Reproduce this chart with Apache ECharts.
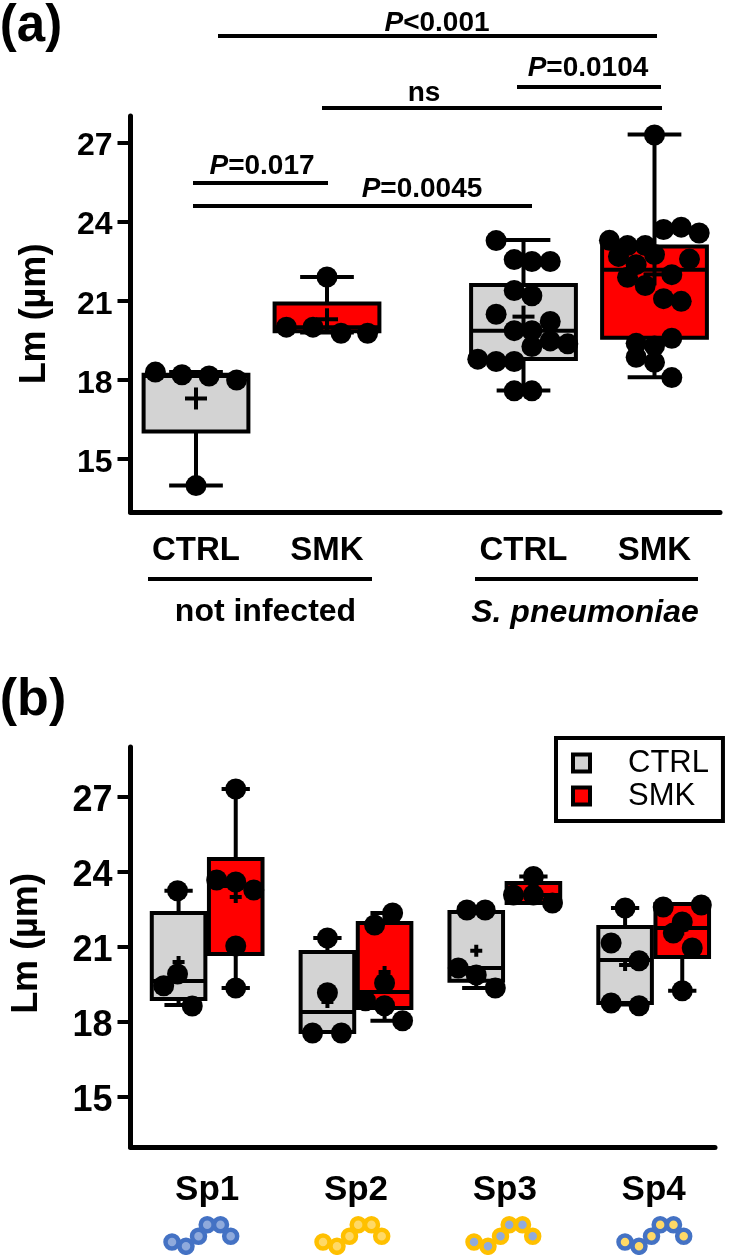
<!DOCTYPE html>
<html><head><meta charset="utf-8">
<style>html,body{margin:0;padding:0;background:#fff}#c{width:734px;height:1255px}</style>
<script src="https://cdn.jsdelivr.net/npm/echarts@6/dist/echarts.min.js"></script>
</head><body><div id="c"></div>
<script>
// ---------- data ----------
const yTicks = [15, 18, 21, 24, 27];
const groupLabelsA = ['CTRL', 'SMK', 'CTRL', 'SMK'];
const groupCentersA = [1, 2, 3.5, 4.5];
const speciesLabels = ['Sp1', 'Sp2', 'Sp3', 'Sp4'];
const speciesCenters = [1, 2, 3, 4];

// box stats: low whisker, Q1, median, Q3, high whisker, mean
const statsNotInfCtrl = [14.0, 16.05, 18.15, 18.2, 18.3, 17.3];
const statsNotInfSmk  = [19.8, 19.85, 20.0, 20.9, 21.9, 20.3];
const statsSpnCtrl    = [17.6, 18.8, 19.87, 21.6, 23.3, 20.4];
const statsSpnSmk     = [18.1, 19.6, 22.18, 23.06, 27.3, 22.0];

// points: [offset from box centre, value]
const ptsNotInfCtrl = [[-.31,18.3],[-.107,18.2],[.1,18.15],[.31,18.0],[0,14.0]];
const ptsNotInfSmk  = [[-.31,20.0],[-.107,20.0],[.107,19.77],[.31,19.77],[0,21.9]];
const ptsSpnCtrl = [[-.209,23.28],[-.071,22.56],[.064,22.49],[.204,22.49],[-.071,21.39],[.064,21.19],[-.209,20.49],[.204,20.22],[-.071,19.87],[.064,19.87],[.064,19.27],[.204,19.48],[.338,19.37],[-.349,18.79],[-.209,18.7],[-.071,18.7],[-.071,17.59],[.064,17.59]];
const ptsSpnSmk = [[0,27.28],[.069,23.7],[.204,23.79],[.341,23.57],[-.344,23.29],[-.206,23.09],[-.071,23.09],[-.275,22.68],[0,22.75],[.267,22.58],[-.14,22.37],[-.206,21.89],[-.071,21.58],[.132,21.99],[.069,21.08],[.204,20.98],[-.14,19.39],[0,19.29],[.132,19.58],[-.14,18.86],[0,18.67],[.132,18.09]];

const statsSp1Ctrl = [18.68, 18.92, 19.64, 22.36, 23.25, 20.4];
const statsSp1Smk  = [19.36, 20.72, 23.44, 24.52, 27.32, 23.0];
const statsSp2Ctrl = [17.6, 17.6, 18.4, 20.8, 21.36, 18.8];
const statsSp2Smk  = [18.05, 18.56, 19.2, 21.96, 22.36, 20.0];
const statsSp3Ctrl = [19.36, 19.65, 20.16, 22.4, 22.48, 20.85];
const statsSp3Smk  = [22.76, 22.76, 23.08, 23.56, 23.82, 23.2];
const statsSp4Ctrl = [18.7, 18.76, 20.48, 21.8, 22.56, 20.28];
const statsSp4Smk  = [19.25, 20.6, 21.76, 22.72, 22.72, 21.7];

const ptsSp1Ctrl = [[-.007,23.25],[-.007,19.92],[-.1,19.45],[.092,18.64]];
const ptsSp1Smk  = [[0,27.32],[-.128,23.68],[0,23.6],[.121,23.28],[0,21.04],[0,19.36]];
const ptsSp2Ctrl = [[0,21.36],[0,19.17],[-.1,17.56],[.094,17.56]];
const ptsSp2Smk  = [[.054,22.36],[-.067,21.88],[0,19.56],[-.128,18.85],[0,18.65],[.121,18.05]];
const ptsSp3Ctrl = [[-.063,22.48],[.06,22.48],[-.121,20.16],[0,19.88],[.128,19.36]];
const ptsSp3Smk  = [[0,23.82],[-.134,23.08],[0,23.08],[.128,22.76]];
const ptsSp4Ctrl = [[0,22.56],[-.094,21.16],[.094,20.45],[-.094,18.76],[.094,18.65]];
const ptsSp4Smk  = [[-.128,22.6],[.128,22.68],[0,22.0],[-.06,21.56],[.067,20.96],[0,19.25]];

// ---------- styling ----------
const FONT = '"Liberation Sans", Arial, sans-serif';
const GRAY = '#d3d3d3', RED = '#ff0000', INK = '#000';
const SP_BLUE = '#4472c4', SP_BLUE_L = '#8faadc', SP_YEL = '#ffc000', SP_YEL_L = '#ffd966';

function boxSeries(name, panel, fill, rows, boxW, capW, crossPx) {
  return {
    type: 'custom', name, xAxisIndex: panel, yAxisIndex: panel, z: 2,
    data: rows, encode: { x: 0, y: [1, 2, 3, 4, 5, 6] },
    renderItem(params, api) {
      const x = api.value(0);
      const P = (dx, v) => api.coord([x + dx, v]);
      const [lo, q1, med, q3, hi, mean] = [1,2,3,4,5,6].map(i => api.value(i));
      const ls = { stroke: INK, lineWidth: 4, fill: null };
      const line = (a, b, style) => ({ type: 'line', shape: { x1: a[0], y1: a[1], x2: b[0], y2: b[1] }, style: style || ls });
      const tl = P(-boxW / 2, q3), br = P(boxW / 2, q1);
      const m = P(0, mean);
      return { type: 'group', children: [
        line(P(0, q3), P(0, hi)), line(P(0, q1), P(0, lo)),
        line(P(-capW / 2, hi), P(capW / 2, hi)), line(P(-capW / 2, lo), P(capW / 2, lo)),
        { type: 'rect', shape: { x: tl[0], y: tl[1], width: br[0] - tl[0], height: br[1] - tl[1] }, style: { fill, stroke: INK, lineWidth: 4 } },
        line(P(-boxW / 2, med), P(boxW / 2, med)),
        line([m[0] - crossPx / 2, m[1]], [m[0] + crossPx / 2, m[1]]),
        line([m[0], m[1] - crossPx / 2], [m[0], m[1] + crossPx / 2])
      ]};
    }
  };
}
function pointSeries(panel, center, pts) {
  return { type: 'scatter', xAxisIndex: panel, yAxisIndex: panel, z: 3, symbol: 'circle', symbolSize: 21, clip: false,
    itemStyle: { color: INK, opacity: 1 }, data: pts.map(p => [center + p[0], p[1]]) };
}
const row = (c, s) => [c, ...s];

const D = 0.192; // panel b dodge
const series = [
  boxSeries('CTRL', 0, GRAY, [row(groupCentersA[0], statsNotInfCtrl), row(groupCentersA[2], statsSpnCtrl)], .80, .41, 22),
  boxSeries('SMK', 0, RED, [row(groupCentersA[1], statsNotInfSmk), row(groupCentersA[3], statsSpnSmk)], .80, .41, 22),
  pointSeries(0, groupCentersA[0], ptsNotInfCtrl), pointSeries(0, groupCentersA[1], ptsNotInfSmk),
  pointSeries(0, groupCentersA[2], ptsSpnCtrl), pointSeries(0, groupCentersA[3], ptsSpnSmk),
  boxSeries('CTRL', 1, GRAY, [statsSp1Ctrl, statsSp2Ctrl, statsSp3Ctrl, statsSp4Ctrl].map((s, i) => row(speciesCenters[i] - D, s)), .36, .19, 12),
  boxSeries('SMK', 1, RED, [statsSp1Smk, statsSp2Smk, statsSp3Smk, statsSp4Smk].map((s, i) => row(speciesCenters[i] + D, s)), .36, .19, 12),
];
[ptsSp1Ctrl, ptsSp2Ctrl, ptsSp3Ctrl, ptsSp4Ctrl].forEach((p, i) => series.push(pointSeries(1, speciesCenters[i] - D, p)));
[ptsSp1Smk, ptsSp2Smk, ptsSp3Smk, ptsSp4Smk].forEach((p, i) => series.push(pointSeries(1, speciesCenters[i] + D, p)));

// ---------- annotations ----------
const g = [];
const hline = (x1, x2, y) => g.push({ type: 'line', shape: { x1, y1: y, x2, y2: y }, style: { stroke: INK, lineWidth: 4 } });
const label = (text, x, y, size, extra) => g.push({ type: 'text', style: Object.assign({ text, x, y, align: 'center', verticalAlign: 'middle', font: `bold ${size}px ${FONT}`, fill: INK }, extra || {}) });
const pLabel = (rest, x, y) => g.push({ type: 'text', style: { text: `{i|P}{b|${rest}}`, x, y, align: 'center', verticalAlign: 'middle',
  rich: { i: { fontStyle: 'italic', fontWeight: 'bold', fontSize: 28, fontFamily: FONT, fill: INK }, b: { fontWeight: 'bold', fontSize: 28, fontFamily: FONT, fill: INK } } } });
hline(218, 657, 36); pLabel('<0.001', 437, 23);
hline(517, 661, 87); pLabel('=0.0104', 588, 68);
hline(322, 662, 108); label('ns', 424, 93, 28);
hline(193, 328, 183); pLabel('=0.017', 262, 166);
hline(193, 532, 206); pLabel('=0.0045', 422, 189);
hline(148, 372, 579); hline(475, 698, 579);
label('not infected', 265.5, 612, 32);
label('S. pneumoniae', 585, 613, 32, { font: `italic bold 32px ${FONT}` });
label('(a)', 31, 27, 51);
label('(b)', 33, 701, 52);
// pneumococcus chains under the species labels
const chainDx = [0, 14, 26.5, 35.2, 48.5, 58.7], chainDy = [0, 4.3, -5.7, -17.3, -17.3, -5.7];
[[SP_BLUE, SP_BLUE_L, 172], [SP_YEL, SP_YEL_L, 323], [SP_YEL, SP_BLUE_L, 474], [SP_BLUE, SP_YEL_L, 625]].forEach(([o, i, x0]) => {
  chainDx.forEach((dx, k) => g.push({ type: 'circle', shape: { cx: x0 + dx, cy: 1242 + chainDy[k], r: 6.5 }, style: { fill: i, stroke: o, lineWidth: 4.5 } }));
});

// ---------- axes ----------
const yAxis = (gridIndex, min, max, gap, size, namePad) => ({
  type: 'value', gridIndex, min, max, name: 'Lm (µm)', nameLocation: 'middle', nameGap: gap,
  nameTextStyle: { fontFamily: FONT, fontWeight: 'bold', fontSize: 36, color: INK, padding: namePad },
  splitLine: { show: false },
  axisLine: { show: true, onZero: false, lineStyle: { color: INK, width: 5 } },
  axisTick: { show: true, length: 13, lineStyle: { color: INK, width: 4 }, customValues: yTicks },
  axisLabel: { customValues: yTicks, margin: 18, formatter: v => `{t|${v}}`,
    rich: { t: { fontFamily: FONT, fontWeight: 'bold', fontSize: size, color: INK, padding: [8, 0, 0, 0] } } }
});
const xAxis = (gridIndex, min, max, vals, names, margin, size) => ({
  type: 'value', gridIndex, min, max,
  splitLine: { show: false },
  axisLine: { show: true, onZero: false, lineStyle: { color: INK, width: 5 } },
  axisTick: { show: false },
  axisLabel: { customValues: vals, formatter: v => names[vals.indexOf(v)], fontFamily: FONT, fontWeight: 'bold', fontSize: size, color: INK, margin }
});

const chart = echarts.init(document.getElementById('c'), null, { renderer: 'canvas' });
chart.setOption({
  animation: false, backgroundColor: '#fff',
  grid: [
    { left: 130.5, right: 14, top: 116, height: 396, outerBoundsMode: 'none' },
    { left: 130.5, right: 19, top: 747, height: 400, outerBoundsMode: 'none' }
  ],
  xAxis: [
    xAxis(0, 0.5, 5, groupCentersA, groupLabelsA, 22, 33),
    xAxis(1, 0.485, 4.412, speciesCenters, speciesLabels, 26, 35)
  ],
  yAxis: [yAxis(0, 13, 28, 77, 32, [0, 0, 0, 0]), yAxis(1, 13, 29, 85, 36, [0, 0, 0, 7])],
  legend: {
    orient: 'vertical', left: 556, top: 738, width: 166, itemWidth: 17, itemHeight: 17, itemGap: 2,
    padding: [9.5, 14, 9.5, 15], borderColor: INK, borderWidth: 4, backgroundColor: '#fff', selectedMode: false,
    icon: 'rect',
    textStyle: { fontFamily: FONT, fontSize: 31, color: INK, padding: [0, 0, 0, 33], lineHeight: 22 },
    data: [
      { name: 'CTRL', itemStyle: { color: GRAY, borderColor: INK, borderWidth: 4 } },
      { name: 'SMK', itemStyle: { color: RED, borderColor: INK, borderWidth: 4 } }
    ]
  },
  series, graphic: { elements: g }
});
</script></body></html>
